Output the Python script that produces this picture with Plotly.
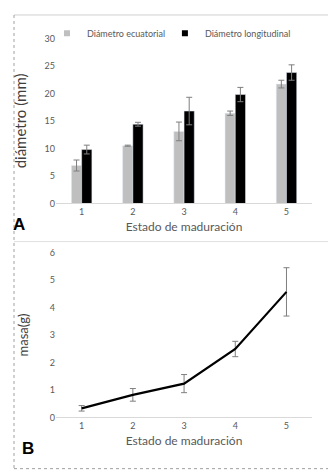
import plotly.graph_objects as go

estados = [1, 2, 3, 4, 5]
tick_labels = ["1", "2", "3", "4", "5"]
ecuatorial = [6.9, 10.5, 13.1, 16.4, 21.7]
ecuatorial_err = [1.0, 0.1, 1.7, 0.4, 0.7]
longitudinal = [9.8, 14.4, 16.8, 19.8, 23.8]
longitudinal_err = [0.8, 0.35, 2.5, 1.3, 1.4]
masa = [0.33, 0.82, 1.23, 2.49, 4.57]
masa_err = [0.1, 0.23, 0.33, 0.28, 0.88]

FONT = "Lato"
GRAY_TXT = "#595959"
C_ECU = "#bfbfbf"
C_LON = "#000000"

fig = go.Figure()
fig.add_trace(go.Bar(
    x=estados, y=ecuatorial, name="Diámetro ecuatorial",
    marker_color=C_ECU, xaxis="x", yaxis="y", showlegend=False,
    error_y=dict(type="data", array=ecuatorial_err, color="#7f7f7f",
                 thickness=1, width=3),
))
fig.add_trace(go.Bar(
    x=estados, y=longitudinal, name="Diámetro longitudinal",
    marker_color=C_LON, xaxis="x", yaxis="y", showlegend=False,
    error_y=dict(type="data", array=longitudinal_err, color="#7f7f7f",
                 thickness=1, width=3),
))
# legend proxies with small square symbols, one legend each
for nm, col, lg in [("Diámetro ecuatorial", C_ECU, "legend"),
                    ("Diámetro longitudinal", C_LON, "legend2")]:
    fig.add_trace(go.Scatter(x=[None], y=[None], mode="markers", name=nm,
                             marker=dict(symbol="square", size=6, color=col),
                             xaxis="x", yaxis="y", legend=lg))
fig.add_trace(go.Scatter(
    x=estados, y=masa, mode="lines", line=dict(color="#000000", width=2.2),
    showlegend=False, xaxis="x2", yaxis="y2",
    error_y=dict(type="data", array=masa_err, color="#7f7f7f",
                 thickness=1, width=3),
))

axis_common = dict(showgrid=False, zeroline=False, ticks="",
                   tickfont=dict(family=FONT, size=9, color=GRAY_TXT))
legend_common = dict(orientation="h", y=0.958, xanchor="left", yanchor="middle",
                     font=dict(family=FONT, size=9, color=GRAY_TXT),
                     itemwidth=30, bgcolor="rgba(0,0,0,0)")

fig.update_layout(
    width=336, height=472,
    margin=dict(l=0, r=0, t=0, b=0),
    paper_bgcolor="white", plot_bgcolor="white",
    barmode="group", bargap=0.6, bargroupgap=0,
    font=dict(family=FONT, color=GRAY_TXT),
    legend=dict(x=0.116, **legend_common),
    legend2=dict(x=0.467, **legend_common),
    xaxis=dict(domain=[0.143, 0.905], range=[0.5, 5.5], tickvals=estados,
               ticktext=tick_labels, showline=True, linecolor="#d9d9d9",
               linewidth=1, anchor="y",
               title=dict(text="Estado de maduración", standoff=6,
                          font=dict(family=FONT, size=12, color=GRAY_TXT)),
               **axis_common),
    yaxis=dict(domain=[0.589, 0.947], range=[0, 30], dtick=5, anchor="x",
               showline=False,
               title=dict(text="diámetro (mm)", standoff=14,
                          font=dict(family=FONT, size=15, color="#404040")),
               **axis_common),
    xaxis2=dict(domain=[0.143, 0.905], range=[0.5, 5.5], tickvals=estados,
                ticktext=tick_labels, showline=True, linecolor="#d9d9d9",
                linewidth=1, anchor="y2",
                title=dict(text="Estado de maduración", standoff=6,
                           font=dict(family=FONT, size=12, color=GRAY_TXT)),
                **axis_common),
    yaxis2=dict(domain=[0.125, 0.4824], range=[0, 6], dtick=1, anchor="x2",
                showline=False,
                title=dict(text="masa(g)", standoff=18,
                           font=dict(family=FONT, size=13, color="#404040")),
                **axis_common),
)

fig.add_annotation(text="<b>A</b>", x=3, y=216, xref="paper", yref="paper",
                   showarrow=False, font=dict(family="Liberation Sans", size=17, color="black"),
                   xanchor="left", yanchor="middle")
fig.add_annotation(text="<b>B</b>", x=12, y=445, xref="paper", yref="paper",
                   showarrow=False, font=dict(family="Liberation Sans", size=17, color="black"),
                   xanchor="left", yanchor="middle")

for a in fig.layout.annotations:
    a.x = a.x / 336
    a.y = 1 - a.y / 472

def px_line(x0, y0, x1, y1, dash="solid", color="#d0d0d0"):
    fig.add_shape(type="line", xref="paper", yref="paper",
                  x0=x0 / 336, y0=1 - y0 / 472, x1=x1 / 336, y1=1 - y1 / 472,
                  line=dict(color=color, width=1, dash=dash))

px_line(6, 1, 334, 1)
px_line(6, 1, 6, 466, dash="dot", color="#a0a0a0")
px_line(334, 1, 334, 233, dash="dot", color="#a0a0a0")
px_line(334, 233, 334, 466, color="#e8e8e8")
px_line(6, 233, 334, 233, color="#e0e0e0")
px_line(6, 465.5, 334, 465.5, dash="dot", color="#a0a0a0")

fig.write_html("out.html")
